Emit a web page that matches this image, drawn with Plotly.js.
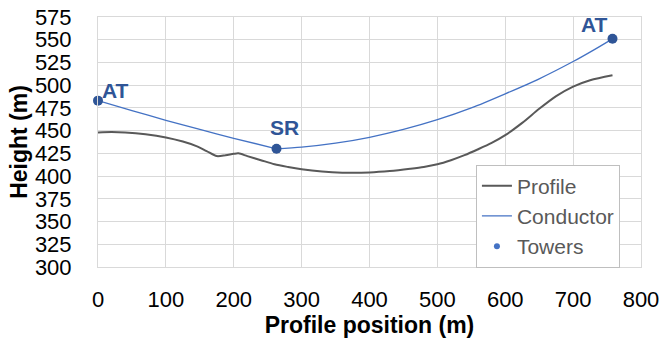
<!DOCTYPE html>
<html>
<head>
<meta charset="utf-8">
<script src="https://cdn.plot.ly/plotly-3.0.1.min.js"></script>
<style>html,body{margin:0;padding:0;background:#fff}#chart{width:660px;height:345px}</style>
</head>
<body>
<div id="chart"></div>
<script>
// Ground profile (m)
const profileX = [0, 20, 40, 70, 100, 125, 145, 160, 175, 188, 200, 207, 220, 240, 260, 280, 300, 330, 360, 400, 430, 460, 480, 500, 520, 540, 560, 580, 600, 625, 650, 675, 700, 725, 758];
const profileY = [448, 448.5, 448, 446, 442.5, 438, 433, 427.5, 422, 423, 424.5, 425, 422, 417.5, 413, 410, 407.5, 405, 403.8, 404, 405.5, 408, 410, 413, 417.5, 423, 429.5, 436.5, 445, 458.5, 474, 488, 498.5, 505.5, 511];
// Conductor (m), span 1: AT -> SR, span 2: SR -> AT
const conductorSpan1X = [0, 50, 100, 150, 200, 263];
const conductorSpan1Y = [483, 472, 461.4, 451.3, 441.6, 430];
const conductorSpan2X = [263, 300, 350, 400, 450, 500, 550, 600, 650, 700, 730, 758];
const conductorSpan2Y = [430, 431.8, 436.2, 442.7, 451.3, 462, 475, 490.5, 507, 526, 538.6, 551];
// Towers
const towerX = [0, 263, 758];
const towerY = [483, 430, 551];
const towerLabels = ['AT', 'SR', 'AT'];
// Axis ticks
const xTicks = [0, 100, 200, 300, 400, 500, 600, 700, 800];
const yTicks = [300, 325, 350, 375, 400, 425, 450, 475, 500, 525, 550, 575];

const labelXShift = [17, 8, -18];
const labelYShift = [10, 21, 14];

const tickFont = {family: 'Liberation Sans Narrow, Arial Narrow, Liberation Sans, sans-serif', size: 22, color: '#000000'};
const titleFont = {family: 'Liberation Sans, Arial, sans-serif', size: 23, color: '#000000', weight: 'bold'};

const conductorLine = {color: '#4472C4', width: 1.3, shape: 'spline', smoothing: 0.8};

const traces = [
  {x: profileX, y: profileY, name: 'Profile', mode: 'lines', line: {color: '#595959', width: 2, shape: 'spline', smoothing: 0.8}},
  {x: conductorSpan1X, y: conductorSpan1Y, name: 'Conductor', mode: 'lines', line: conductorLine, legendgroup: 'cond'},
  {x: conductorSpan2X, y: conductorSpan2Y, name: 'Conductor', mode: 'lines', line: conductorLine, legendgroup: 'cond', showlegend: false},
  {x: towerX, y: towerY, name: 'Towers', mode: 'markers', marker: {color: '#2F5597', size: 10}, showlegend: false, cliponaxis: false},
  {x: [null], y: [null], name: 'Towers', mode: 'markers', marker: {color: '#4472C4', size: 6}}
];

const annotations = towerX.map((x, i) => ({
  x: x, y: towerY[i], xref: 'x', yref: 'y', text: '<b>' + towerLabels[i] + '</b>',
  showarrow: false, xanchor: 'center', yanchor: 'middle',
  xshift: labelXShift[i], yshift: labelYShift[i],
  font: {family: 'Liberation Sans, Arial, sans-serif', size: 21, color: '#2F5597'}
}));

const layout = {
  width: 660, height: 345,
  margin: {l: 98, r: 19, t: 17, b: 78},
  paper_bgcolor: '#ffffff', plot_bgcolor: '#ffffff',
  showlegend: true,
  legend: {
    x: 0.696, y: 0.41, xanchor: 'left', yanchor: 'top',
    bgcolor: '#ffffff', bordercolor: '#BFBFBF', borderwidth: 1,
    font: {family: 'Liberation Sans Narrow, Arial Narrow, sans-serif', size: 21, color: '#595959'},
    tracegroupgap: 0, traceorder: 'normal'
  },
  xaxis: {
    range: [0, 800], tickvals: xTicks, ticktext: xTicks.map(String),
    showgrid: true, gridcolor: '#D9D9D9', gridwidth: 1, zeroline: false,
    showline: true, linecolor: '#D9D9D9', mirror: true,
    ticks: '', tickfont: tickFont, ticklabelstandoff: 13,
    title: {text: 'Profile position (m)', font: titleFont, standoff: 4}
  },
  yaxis: {
    range: [300, 575], tickvals: yTicks, ticktext: yTicks.map(String),
    showgrid: true, gridcolor: '#D9D9D9', gridwidth: 1, zeroline: false,
    showline: true, linecolor: '#D9D9D9', mirror: true,
    ticks: '', tickfont: tickFont, ticklabelstandoff: 21,
    title: {text: 'Height (m)', font: titleFont, standoff: 0}
  },
  annotations: annotations
};

Plotly.newPlot('chart', traces, layout, {displayModeBar: false, staticPlot: true});
</script>
</body>
</html>
